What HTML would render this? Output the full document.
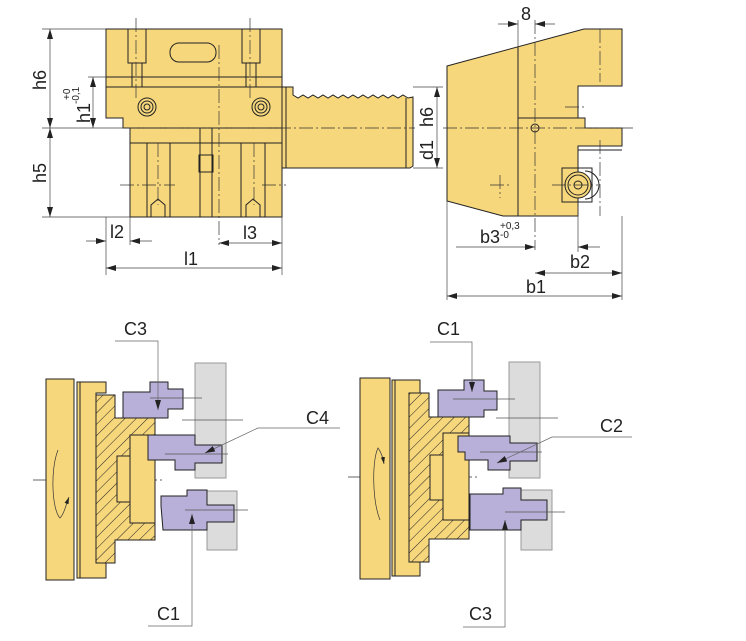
<!DOCTYPE html>
<html><head><meta charset="utf-8"><style>
html,body{margin:0;padding:0;background:#fff;}
svg{display:block;}
text{font-family:"Liberation Sans",sans-serif;fill:#222;}
</style></head><body>
<svg width="746" height="641" viewBox="0 0 746 641" xmlns="http://www.w3.org/2000/svg">
<defs>
<marker id="a" viewBox="0 0 10 6" refX="10" refY="3" markerWidth="10" markerHeight="6" orient="auto-start-reverse" markerUnits="userSpaceOnUse"><path d="M0,0 L10,3 L0,6 z" fill="#222"/></marker>
<marker id="s" viewBox="0 0 10 6" refX="10" refY="3" markerWidth="7" markerHeight="5" orient="auto" markerUnits="userSpaceOnUse"><path d="M0,0 L10,3 L0,6 z" fill="#222"/></marker>
<pattern id="h" width="8" height="8" patternUnits="userSpaceOnUse" patternTransform="rotate(45)"><rect width="8" height="8" fill="#f7d77c"/><line x1="0" y1="0" x2="0" y2="8" stroke="#222" stroke-width="1"/></pattern>
</defs>
<g stroke="#222" stroke-width="1" fill="#f7d77c">
<path d="M106,29 H282 V217 H130 V128 H123 V118 H106 Z"/>
<path d="M282,87 H286 V168 H282 Z"/>
<path d="M286,87 H293 V95 L298,98 L303,95 L308,98 L313,95 L318,98 L323,95 L328,98 L333,95 L338,98 L343,95 L348,98 L353,95 L358,98 L363,95 L368,98 L373,95 L378,98 L383,95 L388,98 L393,95 L398,98 L403,95 L408,98 L413,97 V166 L410,168 H286 Z"/>
<line x1="406" y1="98" x2="406" y2="168"/>
<line x1="106" y1="77" x2="282" y2="77"/><line x1="106" y1="87" x2="282" y2="87"/>
<line x1="130" y1="128" x2="282" y2="128"/><line x1="130" y1="143" x2="282" y2="143"/>
<rect x="170" y="43" width="46" height="19" rx="9"/>
<rect x="128" y="29" width="18" height="34" fill="none"/><rect x="242" y="29" width="18" height="34" fill="none"/>
<rect x="132" y="63" width="10" height="24" fill="none"/><rect x="246" y="63" width="10" height="24" fill="none"/>
<circle cx="147" cy="107" r="9"/><circle cx="147" cy="107" r="6"/><circle cx="147" cy="107" r="3"/>
<circle cx="261" cy="107" r="9"/><circle cx="261" cy="107" r="6"/><circle cx="261" cy="107" r="3"/>
<rect x="147" y="143" width="23" height="74" fill="none"/><rect x="241" y="143" width="24" height="74" fill="none"/>
<path d="M151,217 V205 L158,199 L165,205 V217" fill="none"/><path d="M246,217 V205 L253,199 L260,205 V217" fill="none"/>
<rect x="200" y="128" width="12" height="89" fill="none"/>
<rect x="199" y="155" width="14" height="17" fill="none"/>
<path d="M447,66 L584,29 H622 V86 H578 V118 H585 V128 H622 V146 H578 V216 H503 L447,201 Z"/>
<line x1="518" y1="47" x2="518" y2="216"/><line x1="518" y1="118" x2="578" y2="118"/>
<line x1="578" y1="146" x2="622" y2="146"/><line x1="578" y1="150" x2="622" y2="150"/>
<circle cx="535" cy="128" r="4"/>
<rect x="562" y="168" width="30" height="34" fill="none"/>
<path d="M585,171 A14,14 0 0 1 585,199" fill="none"/>
<circle cx="578" cy="185" r="13"/><circle cx="578" cy="185" r="10"/><circle cx="578" cy="185" r="4"/>
</g>
<g stroke="#333" stroke-width="0.7" stroke-dasharray="14,3,2,3" fill="none">
<line x1="219" y1="45" x2="219" y2="245"/><line x1="123" y1="128" x2="415" y2="128"/>
<line x1="136" y1="18" x2="136" y2="100"/><line x1="250" y1="18" x2="250" y2="100"/>
<line x1="158" y1="143" x2="158" y2="205"/><line x1="254" y1="143" x2="254" y2="205"/>
<line x1="120" y1="185" x2="175" y2="185"/><line x1="262" y1="185" x2="286" y2="185"/>
<line x1="443" y1="128" x2="634" y2="128"/><line x1="535" y1="20" x2="535" y2="250"/>
<line x1="600" y1="29" x2="600" y2="82"/><line x1="565" y1="107" x2="585" y2="107"/>
<line x1="600" y1="140" x2="600" y2="216"/><line x1="490" y1="185" x2="512" y2="185"/><line x1="500" y1="175" x2="500" y2="198"/>
<line x1="552" y1="185" x2="598" y2="185"/>
<line x1="33" y1="480" x2="165" y2="480"/><line x1="348" y1="477" x2="480" y2="477"/>
</g>
<g stroke="#444" stroke-width="0.7" fill="none">
<line x1="42" y1="29" x2="106" y2="29"/><line x1="42" y1="128" x2="123" y2="128"/><line x1="42" y1="217" x2="130" y2="217"/>
<line x1="88" y1="77" x2="106" y2="77"/>
<line x1="106" y1="217" x2="106" y2="275"/><line x1="130" y1="217" x2="130" y2="245"/><line x1="282" y1="217" x2="282" y2="275"/>
<line x1="413" y1="87" x2="443" y2="87"/><line x1="413" y1="168" x2="443" y2="168"/>
<line x1="447" y1="201" x2="447" y2="300"/><line x1="622" y1="216" x2="622" y2="300"/><line x1="578" y1="202" x2="578" y2="252"/>
<line x1="518" y1="20" x2="518" y2="47"/>
<line x1="50" y1="29" x2="50" y2="128" marker-start="url(#a)" marker-end="url(#a)"/>
<line x1="50" y1="128" x2="50" y2="217" marker-start="url(#a)" marker-end="url(#a)"/>
<line x1="93" y1="77" x2="93" y2="128" marker-start="url(#a)" marker-end="url(#a)"/>
<line x1="437" y1="87" x2="437" y2="168" marker-start="url(#a)" marker-end="url(#a)"/>
<line x1="86" y1="241" x2="106" y2="241" marker-end="url(#a)"/><line x1="152" y1="241" x2="130" y2="241" marker-end="url(#a)"/>
<line x1="219" y1="243" x2="282" y2="243" marker-start="url(#a)" marker-end="url(#a)"/>
<line x1="106" y1="268" x2="282" y2="268" marker-start="url(#a)" marker-end="url(#a)"/>
<line x1="498" y1="24" x2="518" y2="24" marker-end="url(#a)"/><line x1="555" y1="24" x2="535" y2="24" marker-end="url(#a)"/>
<line x1="456" y1="247" x2="535" y2="247" marker-end="url(#a)"/><line x1="600" y1="247" x2="578" y2="247" marker-end="url(#a)"/>
<line x1="535" y1="273" x2="622" y2="273" marker-start="url(#a)" marker-end="url(#a)"/>
<line x1="447" y1="296" x2="622" y2="296" marker-start="url(#a)" marker-end="url(#a)"/>
</g>
<g font-size="18">
<text transform="translate(46,90) rotate(-90)">h6</text>
<text transform="translate(46,183) rotate(-90)">h5</text>
<text transform="translate(90,123) rotate(-90)">h1</text>
<text transform="translate(79,104) rotate(-90)" font-size="10">-0,1</text>
<text transform="translate(70,100) rotate(-90)" font-size="10">+0</text>
<text transform="translate(433,127) rotate(-90)">h6</text>
<text transform="translate(433,160) rotate(-90)">d1</text>
<text x="110" y="238">l2</text><text x="243" y="239">l3</text><text x="184" y="265">l1</text>
<text x="521" y="20">8</text>
<text x="480" y="243">b3</text><text x="500" y="238" font-size="10">-0</text><text x="500" y="229" font-size="10">+0,3</text>
<text x="570" y="268">b2</text><text x="526" y="293">b1</text>
<text x="124" y="335">C3</text><text x="306" y="424">C4</text><text x="157" y="620">C1</text>
<text x="437" y="335">C1</text><text x="600" y="432">C2</text><text x="469" y="620">C3</text>
</g>
<g stroke="#222" stroke-width="1">
<rect x="195" y="363" width="31" height="115" fill="#dcdcdc" stroke="#999"/>
<path d="M207,491 H237 V550 H207 Z" fill="#dcdcdc" stroke="#999"/>
<rect x="46" y="379" width="28" height="201" fill="#f7d77c"/>
<path d="M77,382 H106 V393 H96 V563 H106 V578 H77 Z" fill="#f7d77c"/>
<line x1="80" y1="382" x2="80" y2="578"/>
<path d="M96,395 H115 V418 H155 V540 H115 V563 H96 Z" fill="url(#h)"/>
<path d="M130,435 H155 V523 H130 Z M117,456 H130 V502 H117 Z" fill="#f7d77c"/>
<path d="M123,392 H150 V382 H168 V389 H183 V409 H168 V418 H123 Z" fill="#b8b0d8"/>
<path d="M148,435 H195 V445 H222 V463 H195 V470 H175 V460 H148 Z" fill="#b8b0d8"/>
<path d="M161,506 V496 H187 V490 H207 V505 H234 V522 H207 V530 H163 Z" fill="#b8b0d8"/>
<rect x="509" y="362" width="31" height="116" fill="#dcdcdc" stroke="#999"/>
<path d="M521,490 H552 V550 H521 Z" fill="#dcdcdc" stroke="#999"/>
<rect x="360" y="378" width="30" height="201" fill="#f7d77c"/>
<path d="M392,380 H420 V393 H409 V562 H420 V576 H392 Z" fill="#f7d77c"/>
<line x1="395" y1="380" x2="395" y2="576"/>
<path d="M409,393 H429 V417 H469 V539 H429 V562 H409 Z" fill="url(#h)"/>
<path d="M443,433 H469 V520 H443 Z M430,455 H443 V500 H430 Z" fill="#f7d77c"/>
<path d="M438,390 H464 V380 H484 V391 H497 V410 H484 V417 H438 Z" fill="#b8b0d8"/>
<path d="M458,436 H510 V443 H537 V461 H510 V470 H488 V460 H465 V452 H458 Z" fill="#b8b0d8"/>
<path d="M470,500 V494 H503 V488 H521 V500 H547 V520 H521 V530 H470 Z" fill="#b8b0d8"/>
</g>
<g stroke="#555" stroke-width="0.7" fill="none">
<line x1="150" y1="398" x2="202" y2="398"/><line x1="182" y1="420" x2="243" y2="420"/>
<line x1="165" y1="454" x2="228" y2="454"/><line x1="185" y1="510" x2="248" y2="510"/>
<line x1="453" y1="399" x2="515" y2="399"/><line x1="496" y1="418" x2="558" y2="418"/>
<line x1="480" y1="452" x2="542" y2="452"/><line x1="505" y1="512" x2="565" y2="512"/>
<path d="M58,450 C50,470 52,510 60,518 C64,514 66,505 69,497" stroke="#333" marker-end="url(#s)"/>
<path d="M380,520 C372,500 372,460 378,448 C381,452 383,458 384,464" stroke="#333" marker-end="url(#s)"/>
<polyline points="115,341 158,341 158,410" stroke="#666" marker-end="url(#a)"/>
<polyline points="340,428 258,428 205,453" stroke="#666" marker-end="url(#a)"/>
<polyline points="148,626 192,626 192,514" stroke="#666" marker-end="url(#a)"/>
<polyline points="430,342 472,342 472,392" stroke="#666" marker-end="url(#a)"/>
<polyline points="632,437 552,437 497,463" stroke="#666" marker-end="url(#a)"/>
<polyline points="463,627 505,627 505,520" stroke="#666" marker-end="url(#a)"/>
</g>
</svg>
</body></html>
